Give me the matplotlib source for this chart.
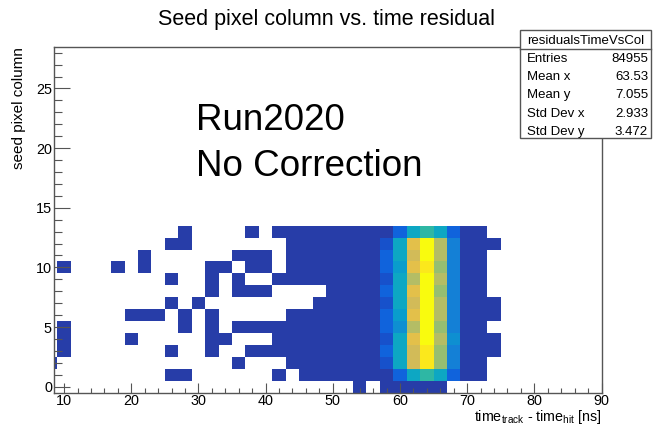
import numpy as np
import matplotlib
matplotlib.use('Agg')
import matplotlib.pyplot as plt
from matplotlib.colors import LinearSegmentedColormap, ListedColormap, Normalize
from matplotlib.patches import Rectangle
from matplotlib.lines import Line2D
from matplotlib.ticker import MultipleLocator

plt.rcParams['font.family'] = ['Liberation Sans', 'DejaVu Sans']
plt.rcParams['mathtext.fontset'] = 'custom'
plt.rcParams['mathtext.rm'] = 'Liberation Sans'
plt.rcParams['mathtext.it'] = 'Liberation Sans:italic'

# --- histogram binning: 2 ns wide time bins, one bin per pixel column ---
time_edges = np.arange(7, 76, 2)        # bin edges 7 .. 75 ns
col_edges = np.arange(-0.5, 14.0, 1.0)  # columns 0 .. 13

# bin contents, one row per seed column, from column 13 (top) down to column 0
# time bins: 8 10 12 ... 74 ns (34 bins)
counts_rows = [
    [0,0,0,0,0,0,0,0,0,0,1,0,0,0,0,1,0,2,3,4,6,9,15,28,55,98,285,835,1065,828,276,62,11,0],
    [0,0,0,0,0,0,0,0,0,1,1,0,0,0,0,0,0,0,4,6,10,17,29,52,96,172,838,1742,2195,1518,502,88,19,1],
    [0,0,0,0,0,0,0,1,0,0,0,0,0,0,1,1,1,0,3,7,11,16,30,55,97,283,845,1634,2210,1525,498,91,21,0],
    [0,1,0,0,0,1,0,1,0,0,0,0,1,1,0,1,1,0,5,6,12,18,31,54,99,279,731,1748,2086,1402,505,87,18,0],
    [0,0,0,0,0,0,0,0,0,1,0,0,1,0,1,0,0,2,4,7,11,17,28,53,94,168,842,1516,2205,1530,497,92,20,0],
    [0,0,0,0,0,0,0,0,0,0,0,0,1,0,1,1,1,0,0,0,0,14,27,51,96,286,836,1745,2240,1408,503,89,19,0],
    [0,0,0,0,0,0,0,0,0,1,0,1,0,0,0,0,0,0,0,0,9,15,29,56,95,171,839,1628,2192,1521,499,93,22,1],
    [0,0,0,0,0,0,1,1,1,0,1,0,1,0,0,0,0,0,3,6,10,16,30,54,97,281,733,1741,2199,1517,501,90,20,1],
    [0,1,0,0,0,0,0,0,0,0,1,0,1,0,1,1,1,2,4,7,11,17,28,55,98,284,622,1519,2201,1405,504,88,19,0],
    [0,1,0,0,0,0,1,0,0,0,0,0,1,1,0,0,0,2,4,6,10,16,29,53,95,173,844,1739,2188,1523,618,91,21,1],
    [0,1,0,0,0,0,0,0,0,1,0,0,1,0,0,1,1,1,3,6,11,17,28,52,96,282,841,1633,2083,1404,496,89,18,1],
    [1,0,0,0,0,0,0,0,0,0,0,0,0,0,1,0,0,0,3,5,9,15,27,50,93,169,837,1627,2078,1399,498,86,17,0],
    [0,0,0,0,0,0,0,0,0,1,1,0,0,0,0,0,0,1,0,4,6,9,16,30,57,96,279,838,1062,836,281,58,9,0],
    [0,0,0,0,0,0,0,0,0,0,0,0,0,0,0,0,0,0,0,0,0,0,0,1,0,2,3,5,4,2,0,0,0,0],
]

stats_name = 'residualsTimeVsCol'
stats_labels = ['Entries', 'Mean x', 'Mean y', 'Std Dev x', 'Std Dev y']
stats_values = ['84955', '63.53', '7.055', '2.933', '3.472']

x_ticks = np.arange(10, 91, 10)
y_ticks = np.arange(0, 26, 5)

counts = np.array(counts_rows[::-1], dtype=float)
counts = np.ma.masked_equal(counts, 0)

# ROOT "bird" palette, split into 20 contour levels like COLZ does
bird = ['#352A87', '#0F5CDD', '#1481D6', '#06A4CA', '#2EB7A4',
        '#87BF77', '#D1BB59', '#FEC832', '#F9FB0E']
smooth = LinearSegmentedColormap.from_list('bird', bird, N=255)
n_levels = 20
level_pos = [int((i + 0.99) * 255 / n_levels) / 254 for i in range(n_levels)]
cmap = ListedColormap([smooth(p) for p in level_pos])
norm = Normalize(vmin=0, vmax=counts.max())

W, H = 654, 425
fig = plt.figure(figsize=(W / 100, H / 100), dpi=100)
ax = fig.add_axes([54 / W, 1 - 392.7 / H, 547.5 / W, 346 / H])

ax.pcolormesh(time_edges, col_edges, counts, cmap=cmap, norm=norm)

ax.set_xlim(8.5, 90)
ax.set_ylim(-0.5, 28.5)
ax.set_xticks(x_ticks)
ax.set_yticks(y_ticks)
ax.xaxis.set_minor_locator(MultipleLocator(2))
ax.yaxis.set_minor_locator(MultipleLocator(1))

frame_col = '#555555'
for s in ax.spines.values():
    s.set_color(frame_col)
    s.set_linewidth(1.0)
ax.tick_params(axis='both', which='both', direction='in', color=frame_col,
               width=0.8, labelsize=10.4, top=False, right=False)
ax.tick_params(axis='x', which='major', length=7.5, pad=1.0)
ax.tick_params(axis='x', which='minor', length=3.8)
ax.tick_params(axis='y', which='major', length=11.8, pad=1.5)
ax.tick_params(axis='y', which='minor', length=5.9)

ax.set_xlabel(r'time$_{\rm track}$ - time$_{\rm hit}$ [ns]', fontsize=10.3, loc='right')
ax.set_ylabel('seed pixel column', fontsize=11, loc='top')
ax.xaxis.set_label_coords(1.0, -0.043)
ax.yaxis.set_label_coords(-0.051, 1.0)

ax.text(29.7, 21.5, 'Run2020', fontsize=26.5, va='baseline')
ax.text(29.7, 17.7, 'No Correction', fontsize=26.5, va='baseline')

fig.text(0.5, 1 - 25 / H, 'Seed pixel column vs. time residual',
         fontsize=15.5, ha='center', va='baseline')

# statistics box in the top right corner
bx0, bx1, by0, by1 = 520, 651, 30, 138
fig.add_artist(Rectangle((bx0 / W, 1 - by1 / H), (bx1 - bx0) / W, (by1 - by0) / H,
                         transform=fig.transFigure, facecolor='white',
                         edgecolor=frame_col, linewidth=1.0, zorder=5))
fig.add_artist(Line2D([bx0 / W, bx1 / W], [1 - 49 / H, 1 - 49 / H],
                      transform=fig.transFigure, color=frame_col, lw=1.0, zorder=6))
fig.text((bx0 + bx1) / 2 / W, 1 - 44 / H, stats_name, fontsize=9.5,
         ha='center', va='baseline', zorder=7)
for i, (lab, val) in enumerate(zip(stats_labels, stats_values)):
    yb = 1 - (62 + i * 18.2) / H
    fig.text(527 / W, yb, lab, fontsize=9.5, ha='left', va='baseline', zorder=7)
    fig.text(648 / W, yb, val, fontsize=9.5, ha='right', va='baseline', zorder=7)

fig.savefig('out.png', dpi=100)
